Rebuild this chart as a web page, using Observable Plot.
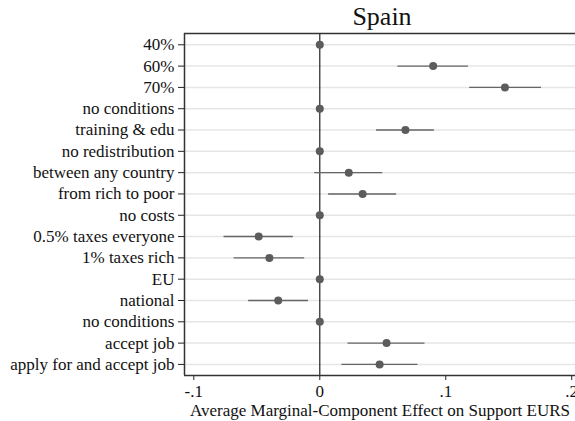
<!DOCTYPE html>
<html><head><meta charset="utf-8">
<script src="https://cdn.jsdelivr.net/npm/d3@7"></script>
<script src="https://cdn.jsdelivr.net/npm/@observablehq/plot@0.6"></script>
<style>
body{margin:0;background:#fff;font-family:"Liberation Serif",serif;}
#title{height:32px;width:575px;box-sizing:border-box;padding-left:189px;text-align:center;font-size:26px;line-height:34px;color:#111;}
</style></head><body>
<div id="title">Spain</div>
<div id="chart"></div>
<script>
const labels = ["40%","60%","70%","no conditions","training & edu","no redistribution","between any country","from rich to poor","no costs","0.5% taxes everyone","1% taxes rich","EU","national","no conditions","accept job","apply for and accept job"];
const estimates = [0, 0.090, 0.147, 0, 0.068, 0, 0.023, 0.034, 0, -0.0485, -0.040, 0, -0.033, 0, 0.053, 0.0475];
const lower = [null, 0.062, 0.119, null, 0.045, null, -0.004, 0.007, null, -0.076, -0.068, null, -0.0565, null, 0.0224, 0.0176];
const upper = [null, 0.118, 0.176, null, 0.091, null, 0.050, 0.061, null, -0.021, -0.012, null, -0.009, null, 0.0835, 0.078];
const xTicks = [-0.1, 0, 0.1, 0.2];
const xTickLabels = ["-.1", "0", ".1", ".2"];
const xLabel = "Average Marginal-Component Effect on Support EURS";

const rows = labels.map((label, i) => ({i, label, est: estimates[i], lo: lower[i], hi: upper[i]}));
const ciRows = rows.filter(d => d.lo != null && d.hi != null);
const xmin = -0.1074, xmax = 0.2030;
const ytop = -0.53, ybot = 15.52;

const chart = Plot.plot({
  width: 575, height: 389,
  marginTop: 1, marginBottom: 46, marginLeft: 184, marginRight: 0,
  style: {fontFamily: "Liberation Serif", fontSize: "17px", color: "#111", background: "white"},
  x: {domain: [xmin, xmax]},
  y: {domain: [ybot, ytop]},
  marks: [
    Plot.ruleY(d3.range(labels.length), {stroke: "#e6e6e6", strokeWidth: 1.5}),
    Plot.ruleX([0], {stroke: "#222", strokeWidth: 1.2}),
    Plot.ruleY(ciRows, {y: "i", x1: "lo", x2: "hi", stroke: "#666", strokeWidth: 1.4}),
    Plot.dot(rows, {x: "est", y: "i", r: 4, fill: "#5c5c5c", stroke: "none"}),
    Plot.axisX({ticks: xTicks, tickFormat: d => xTickLabels[xTicks.indexOf(d)], tickSize: 5, tickPadding: 4, label: null, stroke: "#222"}),
    Plot.axisY({ticks: d3.range(labels.length), tickFormat: i => labels[i], tickSize: 6, tickPadding: 4, label: null, stroke: "#222"}),
    Plot.ruleX([xmin], {stroke: "#333", strokeWidth: 1.5}),
    Plot.ruleY([ytop, ybot], {stroke: "#333", strokeWidth: 1.5}),
    Plot.text([xLabel], {frameAnchor: "bottom", lineAnchor: "middle", dy: 34.6, fill: "#111"})
  ]
});
document.getElementById("chart").appendChild(chart);
</script>
</body></html>
